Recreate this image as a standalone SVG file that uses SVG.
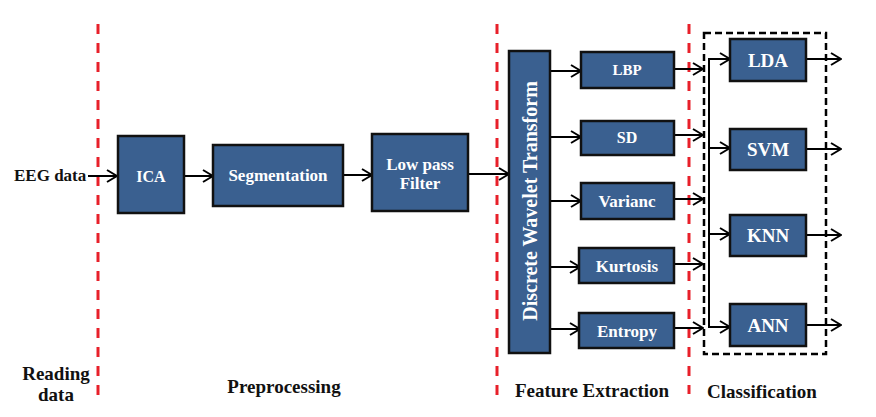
<svg xmlns="http://www.w3.org/2000/svg" width="876" height="417" viewBox="0 0 876 417">
<defs>
<marker id="ah" viewBox="0 0 12 14" refX="11" refY="7" markerWidth="12" markerHeight="14" markerUnits="userSpaceOnUse" orient="auto">
<path d="M1,1 L11,7 L1,13" fill="none" stroke="#000" stroke-width="2"/>
</marker>
<style>
.box{fill:#3A6090;stroke:#111;stroke-width:2.5}
.lbl{font-family:"Liberation Serif","Times New Roman",serif;font-weight:bold;fill:#fff;text-anchor:middle}
.cap{font-family:"Liberation Serif","Times New Roman",serif;font-weight:bold;fill:#111;font-size:19px}
.red{stroke:#E8202A;stroke-width:3;stroke-dasharray:10 9;fill:none}
.con{stroke:#000;stroke-width:2;fill:none}
.arr{stroke:#000;stroke-width:2;fill:none;marker-end:url(#ah)}
</style>
</defs>
<rect width="876" height="417" fill="#fff"/>

<g id="separators">
<line class="red" x1="98" y1="24" x2="98" y2="398"/>
<line class="red" x1="497" y1="24" x2="497" y2="398"/>
<line class="red" x1="689" y1="24" x2="689" y2="394"/>
</g>

<rect id="classification-group" x="704" y="33" width="122" height="321" fill="none" stroke="#000" stroke-width="2.5" stroke-dasharray="7 4"/>

<g id="connectors">
<line class="arr" x1="88" y1="176" x2="117" y2="176"/>
<line class="arr" x1="184" y1="176" x2="213" y2="176"/>
<line class="arr" x1="343" y1="175" x2="372" y2="175"/>
<line class="arr" x1="468" y1="174" x2="509" y2="174"/>
<line class="arr" x1="550" y1="71" x2="581" y2="71"/>
<line class="arr" x1="550" y1="137" x2="581" y2="137"/>
<line class="arr" x1="550" y1="201" x2="581" y2="201"/>
<line class="arr" x1="550" y1="267" x2="580" y2="267"/>
<line class="arr" x1="550" y1="329" x2="580" y2="329"/>
<line class="arr" x1="674" y1="69" x2="703" y2="69"/>
<line class="arr" x1="674" y1="135" x2="703" y2="135"/>
<line class="arr" x1="674" y1="199" x2="703" y2="199"/>
<line class="arr" x1="674" y1="264" x2="703" y2="264"/>
<line class="arr" x1="674" y1="328" x2="703" y2="328"/>
<line class="con" x1="709" y1="59" x2="709" y2="327"/>
<line class="arr" x1="708" y1="59" x2="730" y2="59"/>
<line class="arr" x1="708" y1="148" x2="730" y2="148"/>
<line class="arr" x1="708" y1="234" x2="730" y2="234"/>
<line class="arr" x1="708" y1="327" x2="730" y2="327"/>
<line class="arr" x1="806" y1="59" x2="841" y2="59"/>
<line class="arr" x1="806" y1="149" x2="841" y2="149"/>
<line class="arr" x1="806" y1="235" x2="841" y2="235"/>
<line class="arr" x1="806" y1="325" x2="841" y2="325"/>
</g>

<text class="cap" x="14" y="181" font-size="17" style="font-size:17px">EEG data</text>

<g id="ica"><rect class="box" x="118" y="136" width="66" height="77"/><text class="lbl" x="151" y="182" font-size="16">ICA</text></g>
<g id="segmentation"><rect class="box" x="213" y="145" width="130" height="61"/><text class="lbl" x="278" y="181" font-size="17">Segmentation</text></g>
<g id="lowpass"><rect class="box" x="372" y="134" width="96" height="77"/><text class="lbl" x="420" y="170" font-size="17">Low pass</text><text class="lbl" x="420" y="189" font-size="17">Filter</text></g>
<g id="dwt"><rect class="box" x="509" y="51" width="41" height="302"/><text class="lbl" transform="translate(537,201) rotate(-90)" font-size="20">Discrete Wavelet Transform</text></g>

<g id="lbp"><rect class="box" x="581" y="52" width="93" height="36"/><text class="lbl" x="627" y="75" font-size="15">LBP</text></g>
<g id="sd"><rect class="box" x="581" y="121" width="93" height="34"/><text class="lbl" x="627" y="143" font-size="16">SD</text></g>
<g id="variance"><rect class="box" x="581" y="183" width="93" height="36"/><text class="lbl" x="627" y="207" font-size="17">Varianc</text></g>
<g id="kurtosis"><rect class="box" x="579" y="248" width="95" height="35"/><text class="lbl" x="627" y="272" font-size="17">Kurtosis</text></g>
<g id="entropy"><rect class="box" x="579" y="313" width="95" height="35"/><text class="lbl" x="627" y="337" font-size="17">Entropy</text></g>

<g id="lda"><rect class="box" x="730" y="39" width="76" height="42"/><text class="lbl" x="768" y="67" font-size="19">LDA</text></g>
<g id="svm"><rect class="box" x="730" y="129" width="76" height="41"/><text class="lbl" x="768" y="156" font-size="19">SVM</text></g>
<g id="knn"><rect class="box" x="730" y="215" width="76" height="41"/><text class="lbl" x="768" y="242" font-size="19">KNN</text></g>
<g id="ann"><rect class="box" x="730" y="304" width="76" height="42"/><text class="lbl" x="768" y="332" font-size="19">ANN</text></g>

<g id="stage-labels">
<text class="cap" x="56" y="380" text-anchor="middle">Reading</text>
<text class="cap" x="56" y="401" text-anchor="middle">data</text>
<text class="cap" x="284" y="393" text-anchor="middle">Preprocessing</text>
<text class="cap" x="592" y="397" text-anchor="middle">Feature Extraction</text>
<text class="cap" x="762" y="398" text-anchor="middle">Classification</text>
</g>
</svg>
